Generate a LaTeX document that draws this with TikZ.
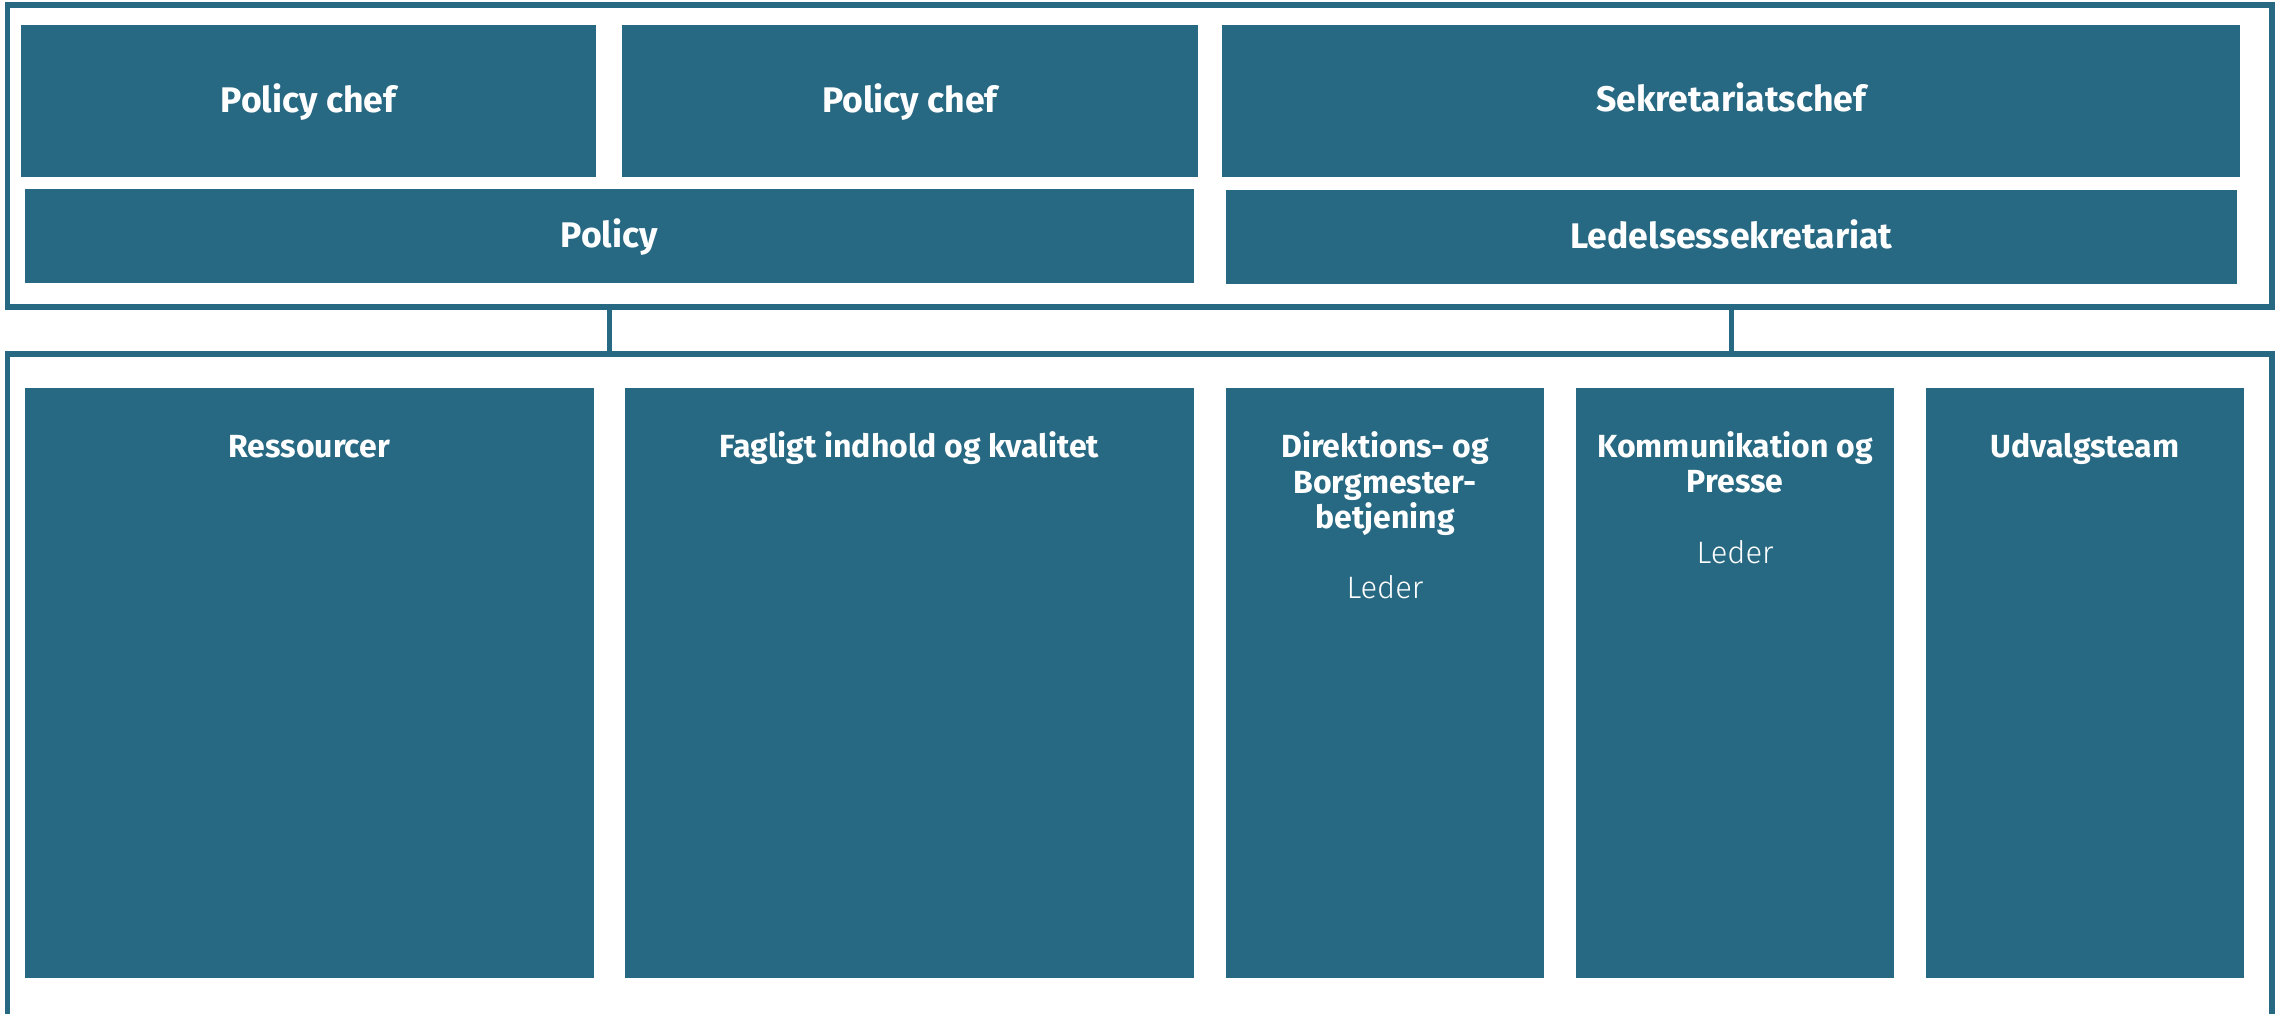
\documentclass[tikz,border=0pt]{standalone}
\usepackage{fontspec}
\setmainfont{Fira Sans}
\newfontfamily\lightfont{Fira Sans Light}
\usetikzlibrary{fit}
\definecolor{regteal}{RGB}{39,104,130}
\begin{document}
\begin{tikzpicture}[x=0.5pt,y=-0.5pt,
  box/.style={fill=regteal, draw=none, inner sep=0pt, outer sep=0pt},
  frame/.style={draw=regteal, line width=2.9pt, inner sep=0pt, outer sep=0pt},
  conn/.style={draw=regteal, line width=2.8pt},
  head/.style={text=white, font=\bfseries\fontsize{17.8}{20}\selectfont, anchor=base, inner sep=0pt},
  sub/.style={text=white, font=\bfseries\fontsize{16}{17.75}\selectfont, anchor=base, inner sep=0pt},
  lead/.style={text=white, font=\lightfont\fontsize{15.5}{16}\selectfont, anchor=base, inner sep=0pt}]
\useasboundingbox (0,0) rectangle (2282,1013);
% frames
\node[frame, fit={(7.5,5.3) (2272,307)}] (topframe) {};
\coordinate (bfbl) at (7.5,1030);
\coordinate (bftl) at (7.5,354);
\coordinate (bftr) at (2272,354);
\coordinate (bfbr) at (2272,1030);
\draw[frame] (bfbl) -- (bftl) -- (bftr) -- (bfbr);
% top boxes
\node[box, fit={(21,25) (596,176.7)}] (pc1) {};
\node[box, fit={(622,25) (1197.6,176.7)}] (pc2) {};
\node[box, fit={(1222,25) (2240,176.7)}] (sc) {};
\node[box, fit={(24.6,189) (1194,282.7)}] (pol) {};
\node[box, fit={(1226,190) (2237,283.7)}] (led) {};
\node[head] (tpc1) at (308.5,112.3) {Policy chef};
\node[head] (tpc2) at (909.8,112.3) {Policy chef};
\node[head] (tsc) at (1731,111.9) {Sekretariatschef};
\node[head] (tpol) at (609.3,247.6) {Policy};
\node[head] (tled) at (1731.5,248.1) {Ledelsessekretariat};
% connectors
\draw[conn] (pol.south |- topframe.south) -- (pol.south |- bftl);
\draw[conn] (led.south |- topframe.south) -- (led.south |- bftl);
% bottom boxes
\node[box, fit={(24.6,388.3) (593.8,978.3)}] (res) {};
\node[box, fit={(625,388.3) (1194,978.3)}] (fag) {};
\node[box, fit={(1226,388.3) (1544,978.3)}] (dir) {};
\node[box, fit={(1576,388.3) (1894.4,978.3)}] (kom) {};
\node[box, fit={(1926,388.3) (2244,978.3)}] (udv) {};
\node[sub] (tres) at (309.2,457.7) {Ressourcer};
\node[sub] (tfag) at (909.5,457.7) {Fagligt indhold og kvalitet};
\node[sub] (tdir1) at (1385,457.7) {Direktions- og};
\node[sub] (tdir2) at (1385,493.3) {Borgmester-};
\node[sub] (tdir3) at (1385,528.7) {betjening};
\node[lead] (ldir) at (1385,598.3) {Leder};
\node[sub] (tkom1) at (1735.2,457.7) {Kommunikation og};
\node[sub] (tkom2) at (1735.2,492.9) {Presse};
\node[lead] (lkom) at (1735.2,563.3) {Leder};
\node[sub] (tudv) at (2085,457.7) {Udvalgsteam};
\end{tikzpicture}
\end{document}
